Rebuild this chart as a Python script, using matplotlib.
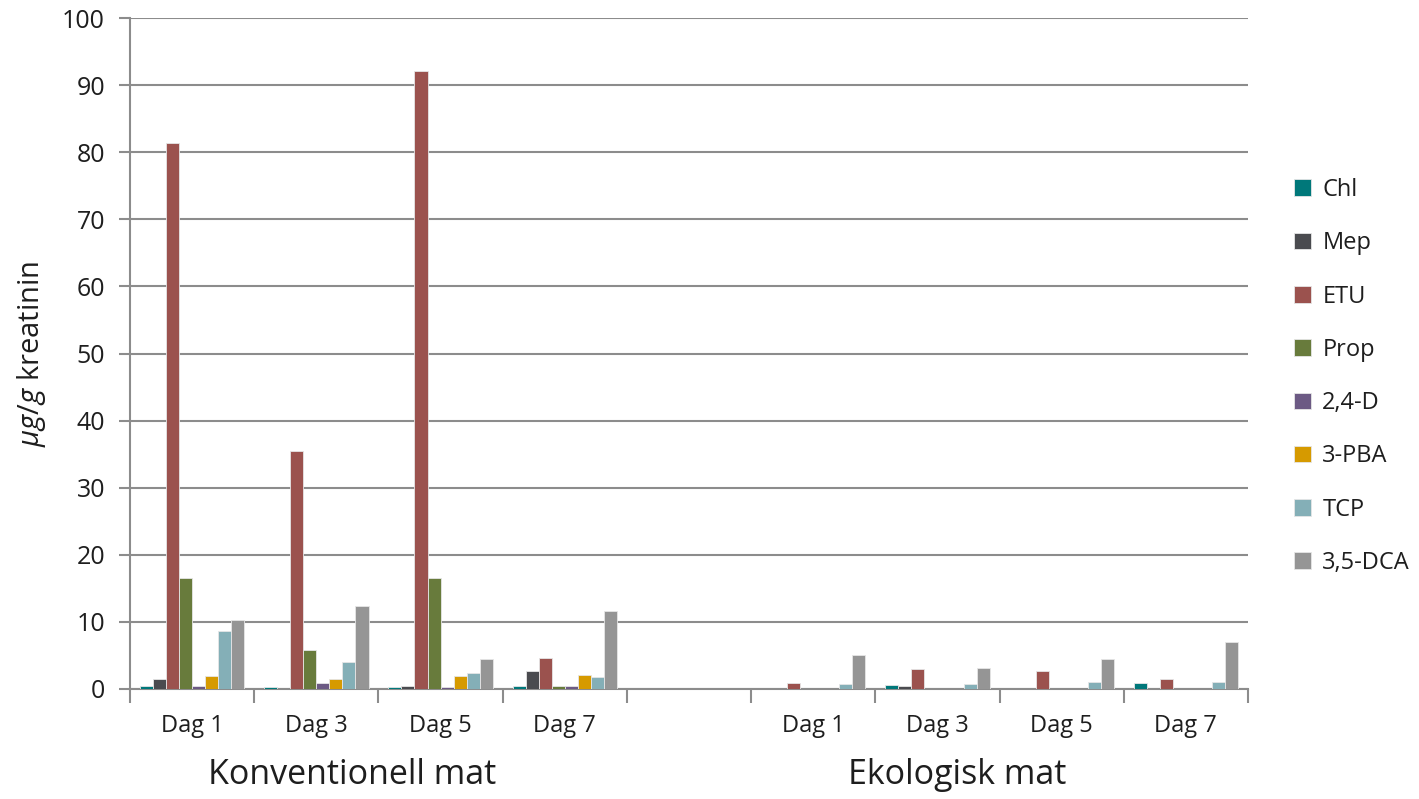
import matplotlib
matplotlib.use("Agg")
import matplotlib.pyplot as plt
import matplotlib.transforms as mtransforms
import numpy as np

plt.rcParams['font.family'] = ['Open Sans', 'DejaVu Sans']
plt.rcParams['mathtext.fontset'] = 'custom'
plt.rcParams['mathtext.it'] = 'Open Sans:italic'
plt.rcParams['mathtext.rm'] = 'Open Sans'

categories = ["Dag 1", "Dag 3", "Dag 5", "Dag 7", "", "Dag 1", "Dag 3", "Dag 5", "Dag 7"]
groups = ["Konventionell mat", "Ekologisk mat"]
series_names = ["Chl", "Mep", "ETU", "Prop", "2,4-D", "3-PBA", "TCP", "3,5-DCA"]

chl   = [0.45, 0.25, 0.25, 0.45, 0, 0.0, 0.65, 0.0, 0.95]
mep   = [1.5, 0.0, 0.45, 2.75, 0, 0.0, 0.45, 0.0, 0.0]
etu   = [81.3, 35.4, 92.1, 4.65, 0, 0.9, 3.0, 2.75, 1.5]
prop  = [16.5, 5.85, 16.5, 0.4, 0, 0.0, 0.0, 0.0, 0.0]
d24   = [0.45, 0.9, 0.25, 0.4, 0, 0.0, 0.0, 0.0, 0.0]
pba   = [1.95, 1.5, 1.95, 2.1, 0, 0.0, 0.0, 0.0, 0.0]
tcp   = [8.6, 4.05, 2.4, 1.75, 0, 0.7, 0.7, 1.1, 1.1]
dca   = [10.3, 12.4, 4.45, 11.55, 0, 5.1, 3.2, 4.5, 6.95]

series = [chl, mep, etu, prop, d24, pba, tcp, dca]
colors = ["#00787A", "#4A4B4F", "#9B524E", "#687B3C", "#6C5A84", "#D69A00", "#84AFB7", "#959595"]

fig = plt.figure(figsize=(14.19, 7.99), dpi=100)
ax = fig.add_axes([130/1419, 1-689/799, (1248-130)/1419, (689-18)/799])

x = np.arange(len(categories))
group_w = 0.84
bw = group_w / len(series)
for j, (vals, col, name) in enumerate(zip(series, colors, series_names)):
    ax.bar(x - group_w/2 + bw*(j+0.5), vals, width=bw, color=col,
           edgecolor="#e6e6e6", linewidth=0.6, label=name, zorder=3)

ax.set_xlim(-0.5, len(categories)-0.5)
ax.set_ylim(0, 100)
ax.set_yticks(np.arange(0, 101, 10))
ax.yaxis.grid(True, color="#8c8c8c", linewidth=1.5, zorder=0)
ax.set_axisbelow(True)

txtc = "#1e1e1e"
ax.set_xticks(x)
ax.set_xticklabels(categories, fontsize=17, color=txtc)
ax.set_xticks(np.arange(-0.5, len(categories), 1.0), minor=True)
ax.tick_params(axis='x', which='major', length=0, pad=18)
ax.tick_params(axis='x', which='minor', length=10, width=1.5, color="#8c8c8c", direction='out')
ax.tick_params(axis='y', length=8, width=1.5, color="#8c8c8c", direction='out', pad=10,
               labelsize=18, labelcolor=txtc)

for s in ['top', 'right']:
    ax.spines[s].set_visible(False)
for s in ['left', 'bottom']:
    ax.spines[s].set_color("#8c8c8c")
    ax.spines[s].set_linewidth(1.5)

ax.set_ylabel(r"$\mu g/g$ kreatinin", fontsize=21, color=txtc, labelpad=10)

trans = mtransforms.blended_transform_factory(ax.transData, fig.transFigure)
ax.text(1.29, 1-775/799, groups[0], transform=trans, ha='center', va='center', fontsize=24.5, color=txtc)
ax.text(6.16, 1-775/799, groups[1], transform=trans, ha='center', va='center', fontsize=24.5, color=txtc)

leg = ax.legend(loc='upper left', bbox_to_anchor=(1294/1419, 1-178/799), bbox_transform=fig.transFigure,
                frameon=False, fontsize=17, labelspacing=1.24, handlelength=0.7, handleheight=0.7,
                handletextpad=0.5, borderaxespad=0, borderpad=0)
for t in leg.get_texts():
    t.set_color(txtc)

fig.savefig("out.png", dpi=100)
